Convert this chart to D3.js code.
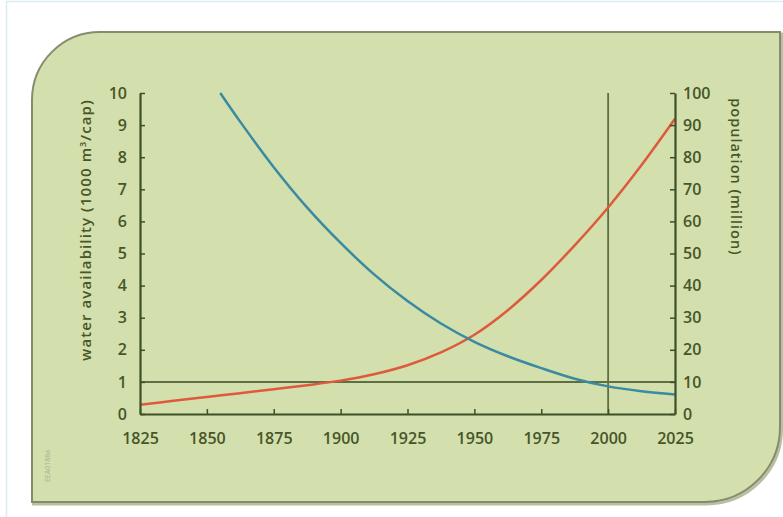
<!DOCTYPE html>
<html>
<head>
<meta charset="utf-8">
<script src="https://cdn.jsdelivr.net/npm/d3@7"></script>
<style>
  body { margin: 0; background: #fff; }
  text { font-family: "Open Sans", sans-serif; }
</style>
</head>
<body>
<script>
// values
const water_years = [1855, 1862.5, 1875, 1887.5, 1900, 1912.5, 1925, 1937.5, 1950, 1962.5, 1975, 1987.5, 2000, 2012.5, 2025];
const water_values = [10, 9.1, 7.69, 6.43, 5.33, 4.35, 3.52, 2.82, 2.25, 1.8, 1.43, 1.1, 0.86, 0.71, 0.61];

const pop_years = [1825, 1837.5, 1850, 1862.5, 1875, 1887.5, 1900, 1912.5, 1925, 1937.5, 1950, 1962.5, 1975, 1987.5, 2000, 2012.5, 2025];
const pop_values = [2.9, 4.1, 5.3, 6.5, 7.7, 8.95, 10.4, 12.4, 15.2, 19.2, 24.7, 32.35, 41.75, 52.55, 64.35, 77.55, 91.95];

const year_ticks = [1825, 1850, 1875, 1900, 1925, 1950, 1975, 2000, 2025];
const water_ticks = [0, 1, 2, 3, 4, 5, 6, 7, 8, 9, 10];
const pop_ticks = [0, 10, 20, 30, 40, 50, 60, 70, 80, 90, 100];
const threshold = 1;      // 1000 m3 per capita line
const marker_year = 2000;

const width = 783, height = 517;
const plot = {left: 140, right: 675, top: 93, bottom: 414};

const panel_fill = "#d3dfac";
const axis_color = "#3e5026";
const text_color = "#465628";
const ref_color = "#5f6f45";

let svg = d3.select("body").append("svg")
        .attr("width", width)
        .attr("height", height);

// faint outer frame
svg.append("rect")
   .attr("x", 6.5).attr("y", 1.5)
   .attr("width", 800).attr("height", 530)
   .attr("fill", "none")
   .attr("stroke", "#d9ecf1")
   .attr("stroke-width", 1.5);

// panel with two rounded corners
let panel_path = "M32,100 A68,68 0 0 1 100,32 L780,32 L780,427 A75,75 0 0 1 705,502 L32,502 Z";
svg.append("path")
   .attr("d", panel_path)
   .attr("transform", "translate(1.5,2)")
   .attr("fill", "none")
   .attr("stroke", "#b9bea4")
   .attr("stroke-width", 3);
svg.append("path")
   .attr("d", panel_path)
   .attr("fill", panel_fill)
   .attr("stroke", "#848d6a")
   .attr("stroke-width", 2);

let x = d3.scaleLinear().domain([1825, 2025]).range([plot.left, plot.right]);
let y_water = d3.scaleLinear().domain([0, 10]).range([plot.bottom, plot.top]);
let y_pop = d3.scaleLinear().domain([0, 100]).range([plot.bottom, plot.top]);

// reference lines
svg.append("line")
   .attr("x1", x(1825)).attr("x2", x(2025))
   .attr("y1", y_water(threshold)).attr("y2", y_water(threshold))
   .attr("stroke", ref_color).attr("stroke-width", 2);
svg.append("line")
   .attr("x1", x(marker_year)).attr("x2", x(marker_year))
   .attr("y1", y_water(0)).attr("y2", y_water(10))
   .attr("stroke", ref_color).attr("stroke-width", 1.8);

// curves
let water_line = d3.line()
        .x(function(d, i){ return x(water_years[i]); })
        .y(function(d){ return y_water(d); })
        .curve(d3.curveCatmullRom.alpha(0.5));
let pop_line = d3.line()
        .x(function(d, i){ return x(pop_years[i]); })
        .y(function(d){ return y_pop(d); })
        .curve(d3.curveCatmullRom.alpha(0.5));

svg.append("path")
   .attr("d", pop_line(pop_values))
   .attr("fill", "none")
   .attr("stroke", "#de5a3c")
   .attr("stroke-width", 2.5);
svg.append("path")
   .attr("d", water_line(water_values))
   .attr("fill", "none")
   .attr("stroke", "#3a8aa2")
   .attr("stroke-width", 2.5);

// axes
let style_axis = function(g){
  g.select(".domain").attr("stroke", axis_color).attr("stroke-width", 2.2);
  g.selectAll(".tick line").attr("stroke", axis_color).attr("stroke-width", 1.5);
  g.selectAll(".tick text")
   .attr("fill", text_color)
   .attr("font-size", 16)
   .attr("font-weight", 600);
};

svg.append("g")
  .attr("transform", "translate(" + plot.left + ",0)")
  .call(d3.axisLeft(y_water).tickValues(water_ticks).tickSize(-5).tickSizeOuter(0).tickPadding(13))
  .call(style_axis);

svg.append("g")
  .attr("transform", "translate(" + plot.right + ",0)")
  .call(d3.axisRight(y_pop).tickValues(pop_ticks).tickSize(-5).tickSizeOuter(0).tickPadding(8))
  .call(style_axis);

svg.append("g")
  .attr("transform", "translate(0," + plot.bottom + ")")
  .call(d3.axisBottom(x).tickValues(year_ticks).tickFormat(d3.format("d")).tickSize(-5).tickSizeOuter(0).tickPadding(19))
  .call(style_axis);

// axis titles
let left_title = svg.append("text")
   .attr("transform", "translate(91,230) rotate(-90)")
   .attr("text-anchor", "middle")
   .attr("fill", text_color)
   .attr("font-size", 15)
   .attr("font-weight", 600)
   .attr("letter-spacing", 1.1);
left_title.append("tspan").text("water availability (1000 m");
left_title.append("tspan").attr("font-size", 9).attr("dy", -5).text("3");
left_title.append("tspan").attr("dy", 5).text("/cap)");

svg.append("text")
   .attr("transform", "translate(731,177) rotate(90)")
   .attr("text-anchor", "middle")
   .attr("fill", text_color)
   .attr("font-size", 14.5)
   .attr("font-weight", 600)
   .attr("letter-spacing", 1)
   .text("population (million)");

// small code at lower left
svg.append("text")
   .attr("transform", "translate(50,466) rotate(-90)")
   .attr("text-anchor", "middle")
   .attr("fill", "#a9b18f")
   .attr("font-size", 7)
   .text("EEA0186a");
</script>
</body>
</html>
